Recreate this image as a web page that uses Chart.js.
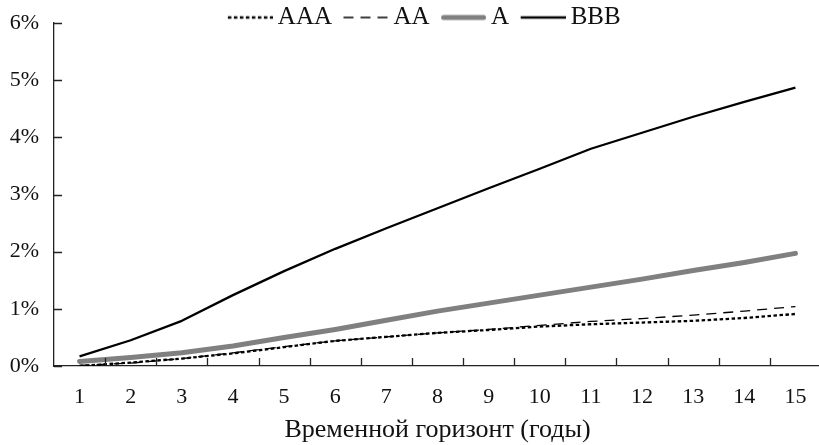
<!DOCTYPE html>
<html><head><meta charset="utf-8">
<script src="https://cdn.jsdelivr.net/npm/chart.js@4/dist/chart.umd.min.js"></script>
<style>html,body{margin:0;padding:0;background:#fff;overflow:hidden;}#wrap{width:821px;height:445px;}</style>
</head><body><div id="wrap"><canvas id="c" width="821" height="445"></canvas></div>
<script>
const categories = ['1','2','3','4','5','6','7','8','9','10','11','12','13','14','15'];
const seriesNames = ['AAA', 'AA', 'A', 'BBB'];
const valuesAAA = [0.00, 0.06, 0.13, 0.22, 0.33, 0.44, 0.51, 0.58, 0.63, 0.69, 0.73, 0.76, 0.79, 0.84, 0.91];
const valuesAA  = [0.01, 0.05, 0.13, 0.23, 0.34, 0.44, 0.51, 0.58, 0.64, 0.71, 0.78, 0.83, 0.89, 0.96, 1.04];
const valuesA   = [0.08, 0.15, 0.23, 0.35, 0.50, 0.64, 0.80, 0.96, 1.10, 1.24, 1.38, 1.52, 1.67, 1.81, 1.97];
const valuesBBB = [0.17, 0.45, 0.79, 1.24, 1.66, 2.05, 2.41, 2.76, 3.11, 3.45, 3.80, 4.08, 4.36, 4.62, 4.87];
const yMin = 0, yMax = 6, yStep = 1;
const xTitle = 'Временной горизонт (годы)';

const FONT = '"Liberation Serif", "Times New Roman", serif';
const AXIS = '#222';

function sample(color, width, dash, cap) {
  const c = document.createElement('canvas');
  c.width = 60; c.height = 10;
  const g = c.getContext('2d');
  g.strokeStyle = color; g.lineWidth = width; g.setLineDash(dash); g.lineCap = cap;
  const inset = cap === 'round' ? width / 2 : 0;
  g.beginPath(); g.moveTo(15 + inset, 5); g.lineTo(60 - inset, 5); g.stroke();
  return c;
}

const styles = [
  {color: '#000', width: 2.3, dash: [3.5, 2.5], cap: 'butt'},
  {color: '#000', width: 1.3, dash: [10, 7], cap: 'butt'},
  {color: '#808080', width: 5, dash: [], cap: 'round'},
  {color: '#000', width: 2.3, dash: [], cap: 'butt'}
];
const allValues = [valuesAAA, valuesAA, valuesA, valuesBBB];

const datasets = seriesNames.map((name, i) => ({
  label: name,
  data: allValues[i],
  borderColor: styles[i].color,
  backgroundColor: styles[i].color,
  borderWidth: styles[i].width,
  borderDash: styles[i].dash,
  borderCapStyle: styles[i].cap,
  borderJoinStyle: 'round',
  pointRadius: 0,
  pointHoverRadius: 0,
  pointStyle: sample(styles[i].color, styles[i].width, styles[i].dash, styles[i].cap),
  tension: 0,
  fill: false
}));

const legendShift = {
  id: 'legendShift',
  afterLayout(chart) {
    const lg = chart.legend;
    if (lg) { lg.left -= 17; lg.right -= 17; lg.bottom += 15; }
  }
};

const innerTicks = {
  id: 'innerTicks',
  afterDraw(chart) {
    const {ctx, chartArea: a, scales: {x, y}} = chart;
    ctx.save();
    ctx.strokeStyle = AXIS; ctx.lineWidth = 1.3;
    ctx.beginPath();
    y.ticks.forEach((t, i) => {
      const py = Math.round(y.getPixelForTick(i)) + 0.5;
      ctx.moveTo(a.left, py); ctx.lineTo(a.left + 8, py);
    });
    for (let i = 1; i < categories.length; i++) {
      const px = Math.round(x.getPixelForValue(i - 0.5)) + 0.5;
      ctx.moveTo(px, a.bottom); ctx.lineTo(px, a.bottom - 8);
    }
    ctx.stroke();
    ctx.restore();
  }
};

new Chart(document.getElementById('c'), {
  type: 'line',
  data: {labels: categories, datasets},
  plugins: [legendShift, innerTicks],
  options: {
    responsive: false,
    animation: false,
    events: [],
    layout: {padding: {top: 1, left: 0, right: 0, bottom: 0}},
    plugins: {
      tooltip: {enabled: false},
      legend: {
        display: true,
        position: 'top',
        align: 'center',
        fullSize: false,
        maxHeight: 22,
        labels: {
          usePointStyle: true,
          pointStyleWidth: 45,
          padding: 4,
          color: '#111',
          font: {family: FONT, size: 25}
        }
      }
    },
    scales: {
      x: {
        type: 'category',
        offset: true,
        afterFit: s => { s.height = 79; s.paddingLeft = 0; s.paddingRight = 0; },
        grid: {display: true, drawOnChartArea: false, drawTicks: false, offset: true},
        border: {display: true, color: AXIS, width: 1.3},
        ticks: {color: '#111', font: {family: FONT, size: 22, lineHeight: 1.2}, padding: 18, maxRotation: 0, autoSkip: false},
        title: {display: true, text: xTitle, color: '#111', font: {family: FONT, size: 26, lineHeight: 1}, padding: {top: 0, bottom: 1.5}}
      },
      y: {
        min: yMin, max: yMax,
        afterFit: s => { s.width = 54; s.paddingTop = 0; s.paddingBottom = 0; },
        grid: {display: true, drawOnChartArea: false, drawTicks: false},
        border: {display: true, color: AXIS, width: 1.3},
        ticks: {stepSize: yStep, color: '#111', font: {family: FONT, size: 22}, padding: 15, callback: v => v + '%'}
      }
    }
  }
});
</script></body></html>
